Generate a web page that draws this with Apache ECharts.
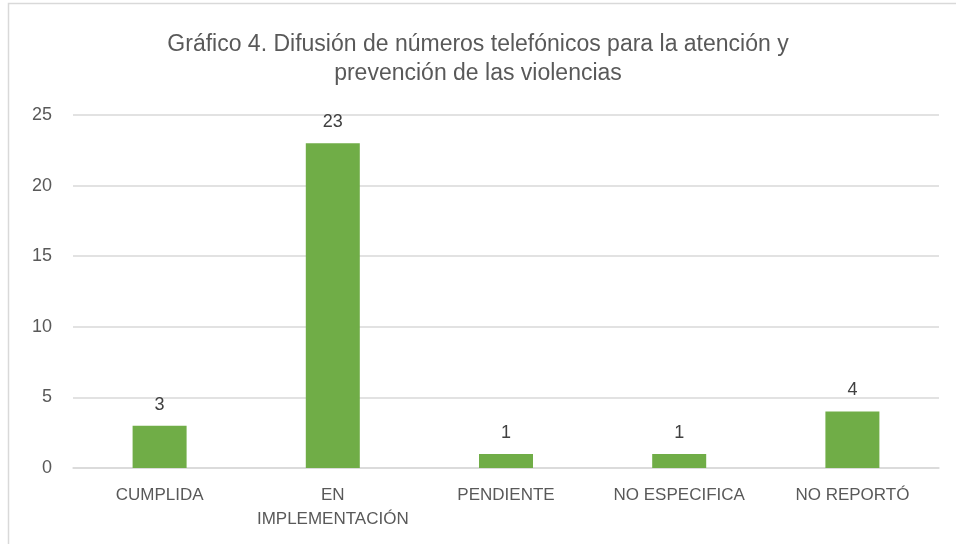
<!DOCTYPE html>
<html><head><meta charset="utf-8">
<script src="https://cdn.jsdelivr.net/npm/echarts@6/dist/echarts.min.js"></script>
<style>html,body{margin:0;padding:0;background:#fff}#c{width:956px;height:544px}</style>
</head><body><div id="c"></div>
<script>
const categories = ['CUMPLIDA', 'EN\nIMPLEMENTACIÓN', 'PENDIENTE', 'NO ESPECIFICA', 'NO REPORTÓ'];
const values = [3, 23, 1, 1, 4];
const titleText = 'Gráfico 4. Difusión de números telefónicos para la atención y\nprevención de las violencias';

const chart = echarts.init(document.getElementById('c'));
chart.setOption({
  animation: false,
  graphic: [{type:'rect', shape:{x:8.5,y:3.5,width:960,height:560}, style:{fill:'none', stroke:'#d9d9d9', lineWidth:1.5}}],
  title: {text: titleText, left: 'center', top: 25,
    textStyle:{fontFamily:'Liberation Sans', fontSize:23, fontWeight:'normal', color:'#595959', lineHeight:29}},
  grid: {left: 73, right: 17, top: 115, bottom: 76},
  xAxis: {type:'category', data: categories,
    axisLine:{lineStyle:{color:'#d9d9d9', width:1.5}}, axisTick:{show:false},
    axisLabel:{color:'#595959', fontFamily:'Liberation Sans', fontSize:17, margin:15, lineHeight:24, interval:0}},
  yAxis: {type:'value', min:0, max:25, interval:5,
    axisLine:{show:false}, axisTick:{show:false},
    splitLine:{lineStyle:{color:'#d9d9d9', width:1.5}},
    axisLabel:{color:'#595959', fontFamily:'Liberation Sans', fontSize:18, margin:21}},
  series: [{type:'bar', data: values, barWidth:54, itemStyle:{color:'#70ad47'},
    label:{show:true, position:'top', distance:12, color:'#404040', fontFamily:'Liberation Sans', fontSize:18}}]
});
</script></body></html>
